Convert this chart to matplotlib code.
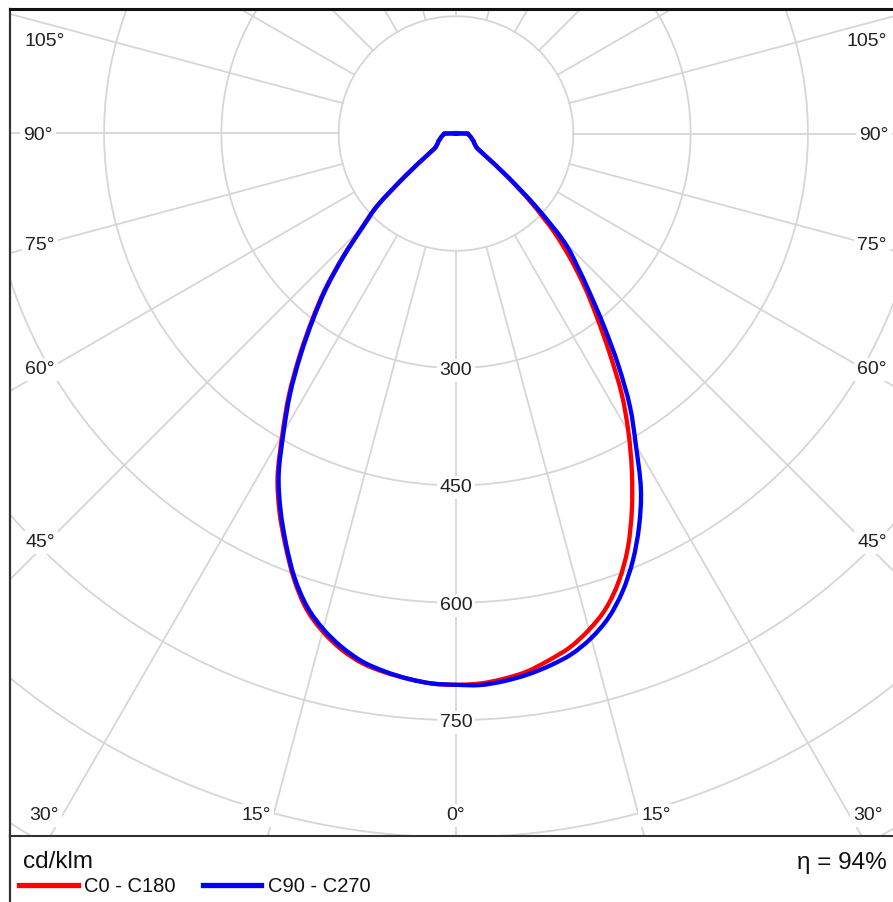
import numpy as np
import matplotlib.pyplot as plt
from matplotlib.lines import Line2D
from matplotlib.path import Path
from matplotlib.patches import PathPatch

plt.rcParams['font.family'] = ['Liberation Sans', 'DejaVu Sans']

# gamma angle from nadir (deg) and luminous intensity in cd/klm
gamma = [0, 2.5, 5, 7.5, 10, 12.5, 15, 17.5, 20, 22.5, 25, 27.5, 30, 32.5,
         35, 37.5, 40, 42.5, 45, 47.5, 50, 52.5, 55, 57.5, 60, 62.5, 65,
         67.5, 70, 72.5, 75, 77.5, 80, 82.5, 85, 87.5, 90, 95, 180]
c0 = [705, 704, 700, 694, 684, 673, 657, 637, 609, 574, 532, 487, 441, 394,
      342, 296, 256, 216, 176, 130, 85, 50, 34, 30, 28, 26, 25,
      24, 22, 21, 20, 19, 18, 17, 16, 15, 14, 0, 0]
c180 = [705, 704, 700, 695, 688, 676, 659, 637, 606, 570, 534, 494, 444, 398,
        350, 304, 261, 214, 170, 136, 85, 50, 34, 30, 28, 26, 25,
        24, 22, 21, 20, 19, 18, 17, 16, 15, 14, 0, 0]
c90 = [706, 706, 703, 698, 691, 682, 668, 649, 623, 591, 554, 512, 460, 414,
       362, 311, 266, 229, 195, 140, 88, 50, 34, 30, 28, 26, 25,
       24, 22, 21, 20, 19, 18, 17, 16, 15, 14, 0, 0]
c270 = [705, 704, 700, 694, 686, 673, 656, 634, 604, 568, 531, 491, 441, 395,
        347, 301, 258, 212, 168, 135, 85, 50, 34, 30, 28, 26, 25,
        24, 22, 21, 20, 19, 18, 17, 16, 15, 14, 0, 0]

ring_values = [150, 300, 450, 600, 750, 900, 1050, 1200]
ring_labels = [300, 450, 600, 750]
efficiency = 94

# ---- layout (pixels) ----
W, H = 893, 902
S = 117.3 / 150          # px per cd/klm
cx, cy = 456, 133.5      # pixel position of the pole
L, R, T, B = 10, 902, 9, 836
DY = 2.5 / S             # nudge labels so the digits sit centred

fig = plt.figure(figsize=(W / 100, H / 100), dpi=100)
ax = fig.add_axes([L / W, 1 - B / H, (R - L) / W, (B - T) / H])
ax.set_xlim((L - cx) / S, (R - cx) / S)
ax.set_ylim((cy - B) / S, (cy - T) / S)
ax.set_xticks([])
ax.set_yticks([])
ax.spines['right'].set_visible(False)
ax.spines['top'].set_linewidth(2.2)
ax.spines['top'].set_color('#111111')
ax.spines['left'].set_linewidth(1.6)
ax.spines['left'].set_color('#333333')
ax.spines['bottom'].set_linewidth(1.5)
ax.spines['bottom'].set_color('#333333')

grid_c = '#d6d6d6'
t = np.radians(np.linspace(0, 360, 721))
for r in ring_values:
    ax.plot(r * np.sin(t), -r * np.cos(t), color=grid_c, lw=1.3, zorder=1)
for a in np.radians(np.arange(0, 360, 15)):
    ax.plot([150 * np.sin(a), 1600 * np.sin(a)], [-150 * np.cos(a), -1600 * np.cos(a)],
            color=grid_c, lw=1.3, zorder=1)

box = dict(boxstyle='square,pad=0.15', fc='white', ec='none')
lbl_kw = dict(ha='center', va='center', fontsize=14, color='#222222', bbox=box, zorder=3)
for v in ring_labels:
    ax.text(0, -v - DY, str(v), **lbl_kw)

# angle labels: pixel centres on the left side, mirrored on the right
ang_lbl = [('105°', 45, 39), ('90°', 38, 133.5), ('75°', 40, 243),
           ('60°', 40, 367), ('45°', 40, 540), ('30°', 44, 813), ('15°', 256, 813)]
for txt, px, py in ang_lbl:
    for xx in (px, 2 * cx - px):
        ax.text((xx - cx) / S, (cy - py) / S - DY, txt, **lbl_kw)
ax.text(0, (cy - 813) / S - DY, '0°', **lbl_kw)


def curve(left, right):
    g = np.radians(gamma)
    li, ri = np.array(left, float), np.array(right, float)
    x = np.concatenate([-(li * np.sin(g))[::-1], (ri * np.sin(g))[1:]])
    y = np.concatenate([-(li * np.cos(g))[::-1], -(ri * np.cos(g))[1:]])
    return np.column_stack([x, y])


def smooth(pts):
    # Catmull-Rom through the points, drawn as cubic Bezier segments
    p = np.vstack([pts[0], pts, pts[-1]])
    verts = [pts[0]]
    codes = [Path.MOVETO]
    for i in range(1, len(p) - 2):
        c1 = p[i] + (p[i + 1] - p[i - 1]) / 6
        c2 = p[i + 1] - (p[i + 2] - p[i]) / 6
        verts += [c1, c2, p[i + 1]]
        codes += [Path.CURVE4] * 3
    return Path(verts, codes)


for pts, col, z in [(curve(c180, c0), '#ff0000', 4), (curve(c270, c90), '#0000ff', 5)]:
    ax.add_patch(PathPatch(smooth(pts), fill=False, ec=col, lw=3.1, zorder=z,
                           joinstyle='round', capstyle='round'))

# ---- footer ----
def fx(p):
    return p / W


def fy(p):
    return 1 - p / H


fig.add_artist(Line2D([fx(L), fx(L)], [0, fy(B)], color='#333333', lw=1.6))
fig.text(fx(23), fy(862), 'cd/klm', ha='left', va='center', fontsize=17.5, color='#111111')
fig.text(fx(887), fy(863), f'η = {efficiency}%', ha='right', va='center',
         fontsize=17.5, color='#111111')
fig.add_artist(Line2D([fx(19), fx(78)], [fy(884.5), fy(884.5)], color='#ff0000', lw=3.8))
fig.text(fx(84), fy(886), 'C0 - C180', ha='left', va='center', fontsize=14.5, color='#111111')
fig.add_artist(Line2D([fx(203), fx(261)], [fy(884.5), fy(884.5)], color='#0000ff', lw=3.8))
fig.text(fx(268), fy(886), 'C90 - C270', ha='left', va='center', fontsize=14.5, color='#111111')

fig.savefig('out.png', dpi=100)
